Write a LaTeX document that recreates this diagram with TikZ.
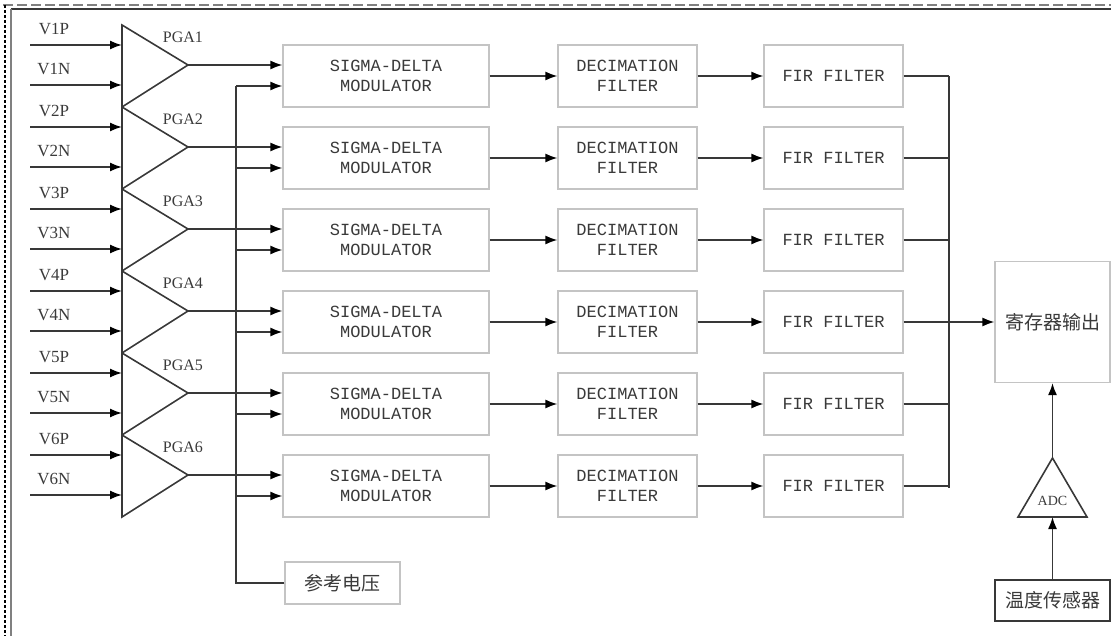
\documentclass[tikz,border=0pt]{standalone}
\usepackage{fontspec}
\setmainfont{Liberation Serif}
\setmonofont{Liberation Mono}
\newfontfamily\cjk{Noto Sans CJK SC}
\usetikzlibrary{arrows.meta, positioning}
\definecolor{wirecolor}{HTML}{383838}
\definecolor{boxcolor}{HTML}{C4C4C4}
\definecolor{textcolor}{HTML}{3A3A3A}

\begin{document}
\begin{tikzpicture}[
    x=1pt, y=-1pt,
    blk/.style={rectangle, draw=boxcolor, line width=1.2pt, fill=white, inner sep=0pt, align=center, text=textcolor, font=\ttfamily\fontsize{17}{20}\selectfont},
    sdmbox/.style={blk, minimum width=206pt, minimum height=62pt},
    filtbox/.style={blk, minimum width=139pt, minimum height=62pt},
    cjkbox/.style={blk, minimum width=115pt, font=\cjk\fontsize{19}{22}\selectfont},
    wire/.style={draw=wirecolor, line width=1.6pt},
    arr/.style={wire, -{Latex[length=12pt,width=9pt,color=black]}},
    lbl/.style={font=\fontsize{17}{17}\selectfont, text=textcolor, inner sep=0pt}
]
\useasboundingbox (0,0) rectangle (1111,636);

% -- FRAME --
\draw[gray, line width=1.5pt, dash pattern=on 10pt off 4pt] (3,5) -- (1111,5);
\draw[black, line width=2.5pt, dash pattern=on 3pt off 2pt] (5,5) -- (5,636);
\draw[wirecolor, line width=1.5pt] (11,9) -- (1111,9);
\draw[gray, line width=1.5pt] (11,9) -- (11,636);

% -- OUTPUT SIDE --
\coordinate (obustop) at (949,76);
\coordinate (obusbot) at (949,488);
\node[cjkbox, minimum height=121pt] (reg) at (1052.5,322) {寄存器输出};
\node[cjkbox, minimum height=42pt] (ref) at (342.5,583) {参考电压};
\node[cjkbox, minimum height=41pt, draw=wirecolor] (sens) at (1052.5,600.5) {温度传感器};

% -- CHANNELS 1..6 --
\foreach \i in {1,...,6} {
  \pgfmathsetmacro{\yc}{76+82*(\i-1)}
  \node[sdmbox] (sdm\i) at (386,\yc) {SIGMA-DELTA\\MODULATOR};
  \node[filtbox] (dec\i) at (627.5,\yc) {DECIMATION\\FILTER};
  \node[filtbox] (fir\i) at (833.5,\yc) {FIR FILTER};

  % amplifier
  \coordinate (pgatop\i) at (122,\yc-51);
  \coordinate (pga\i) at (188,\yc-11);
  \coordinate (pgabot\i) at (122,\yc+31);
  \draw[wire, line join=miter] (pgatop\i) -- (pga\i) -- (pgabot\i) -- cycle;
  \node[lbl, font=\fontsize{16}{16}\selectfont] (pgalbl\i) at (183,\yc-39) {PGA\i};

  % inputs
  \coordinate (vp\i) at (30,\yc-31);
  \coordinate (vn\i) at (30,\yc+9);
  \draw[arr] (vp\i) -- (vp\i -| pgatop\i);
  \draw[arr] (vn\i) -- (vn\i -| pgatop\i);
  \node[lbl] (vplbl\i) at (54,\yc-47) {V\i P};
  \node[lbl] (vnlbl\i) at (54,\yc-7) {V\i N};

  % signal chain
  \coordinate (bus\i) at (236,\yc+10);
  \draw[arr] (pga\i) -- (pga\i -| sdm\i.west);
  \draw[arr] (bus\i) -- (bus\i -| sdm\i.west);
  \draw[arr] (sdm\i) -- (dec\i);
  \draw[arr] (dec\i) -- (fir\i);
  \draw[wire] (fir\i.east) -- (fir\i.east -| obustop);
}

% -- REFERENCE BUS --
\draw[wire] (ref.west) -| (bus1);

% -- COLLECTOR --
\draw[wire] (obustop) -- (obusbot);
\draw[arr] (fir4.east -| obustop) -- (reg.west);

% -- TEMPERATURE PATH --
\coordinate (adctop) at (1052.5,458);
\coordinate (adcbase) at (1052.5,517);
\draw[wire, line join=miter] (adctop) -- (1087,517) -- (1018,517) -- cycle;
\node[lbl, font=\fontsize{14}{14}\selectfont] (adc) at (1052.5,501) {ADC};
\draw[arr] (sens) -- (adcbase);
\draw[arr] (adctop) -- (reg.south);

\end{tikzpicture}
\end{document}
